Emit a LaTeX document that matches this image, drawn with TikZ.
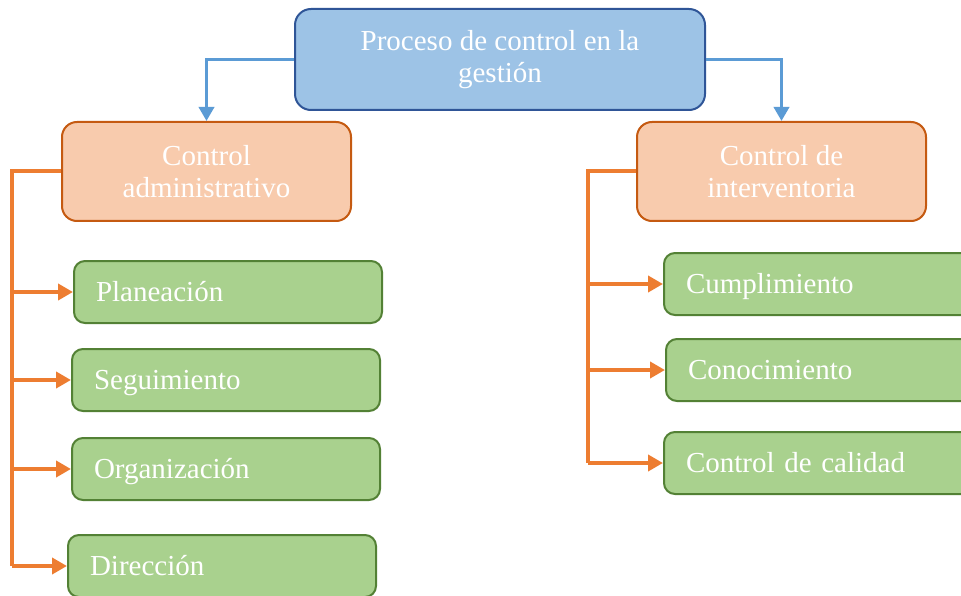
\documentclass[tikz,border=0pt]{standalone}
\usepackage{fontspec}
\setmainfont{Liberation Serif}
\usetikzlibrary{arrows.meta}
\definecolor{topfill}{HTML}{9DC3E6}
\definecolor{topdraw}{HTML}{2F5597}
\definecolor{midfill}{HTML}{F8CBAD}
\definecolor{middraw}{HTML}{C55A11}
\definecolor{leaffill}{HTML}{A9D18E}
\definecolor{leafdraw}{HTML}{538135}
\definecolor{bline}{HTML}{5B9BD5}
\definecolor{oline}{HTML}{ED7D31}
\tikzset{
  boxtxt/.style={text=white, font=\fontsize{29}{32}\selectfont, align=center, inner sep=0pt},
  topbox/.style={boxtxt, fill=topfill, draw=topdraw, line width=2pt, rounded corners=16pt, minimum width=410pt, minimum height=101pt},
  midbox/.style={boxtxt, fill=midfill, draw=middraw, line width=2pt, rounded corners=15pt, minimum width=289pt, minimum height=99pt},
  leafbox/.style={boxtxt, fill=leaffill, draw=leafdraw, line width=2pt, rounded corners=11pt, minimum height=62pt, text width=264pt, align=left, inner xsep=22pt, text height=19pt, text depth=0pt},
  bconn/.style={draw=bline, line width=3.5pt, -{Triangle[length=14pt,width=15pt]}},
  otrunk/.style={draw=oline, line width=4pt},
  oconn/.style={draw=oline, line width=4pt, -{Triangle[length=15pt,width=16pt]}}
}
\begin{document}
\begin{tikzpicture}[x=1pt,y=-1pt]
\clip (0,0) rectangle (961,596);
\fill[white] (0,0) rectangle (961,596);
\node[topbox] (top) at (500,59.5) {Proceso de control en la\\gestión};
\node[midbox] (adm) at (206.5,171.5) {Control\\administrativo};
\node[midbox] (int) at (781.5,171.5) {Control de\\interventoria};
\node[leafbox, anchor=west] (pla) at (73,292) {Planeación};
\node[leafbox, anchor=west] (seg) at (71,380) {Seguimiento};
\node[leafbox, anchor=west] (org) at (71,469) {Organización};
\node[leafbox, anchor=west] (dir) at (67,566) {Dirección};
\node[leafbox, anchor=west] (cum) at (663,284) {Cumplimiento};
\node[leafbox, anchor=west] (con) at (665,370) {Conocimiento};
\node[leafbox, anchor=west] (cal) at (663,463) {Control de calidad};
\coordinate (L) at (12,0);
\coordinate (R) at (588,0);
\draw[bconn] (top.west) -| (adm.north);
\draw[bconn] (top.east) -| (int.north);
\draw[otrunk] (adm.west) -- (adm.west -| L) -- (L |- dir.west);
\draw[oconn] (L |- pla.west) -- (pla.west);
\draw[oconn] (L |- seg.west) -- (seg.west);
\draw[oconn] (L |- org.west) -- (org.west);
\draw[oconn] (L |- dir.west) -- (dir.west);
\draw[otrunk] (int.west) -- (int.west -| R) -- (R |- cal.west);
\draw[oconn] (R |- cum.west) -- (cum.west);
\draw[oconn] (R |- con.west) -- (con.west);
\draw[oconn] (R |- cal.west) -- (cal.west);
\end{tikzpicture}
\end{document}
